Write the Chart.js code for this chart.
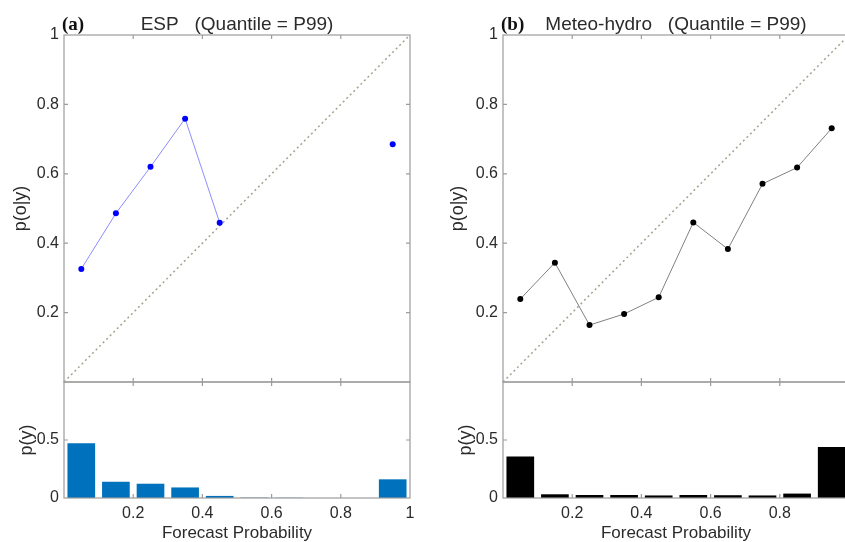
<!DOCTYPE html>
<html>
<head>
<script src="https://cdn.jsdelivr.net/npm/chart.js@4/dist/chart.umd.min.js"></script>
<style>
  body { margin: 0; width: 845px; height: 542px; overflow: hidden; background: #fff; position: relative; }
  canvas { position: absolute; }
</style>
</head>
<body>
<canvas id="espTop" width="420" height="386" style="left:0;top:0"></canvas>
<canvas id="espBottom" width="420" height="172" style="left:0;top:370px"></canvas>
<canvas id="mhTop" width="440" height="386" style="left:420px;top:0"></canvas>
<canvas id="mhBottom" width="440" height="172" style="left:420px;top:370px"></canvas>
<script>
// bin centres of the forecast probability
const binCenters = [0.05, 0.15, 0.25, 0.35, 0.45, 0.55, 0.65, 0.75, 0.85, 0.95];
// p(o|y) - observed relative frequency (null = empty bin)
const espObs = [0.326, 0.486, 0.620, 0.759, 0.459, null, null, null, null, 0.685];
const mhObs = [0.239, 0.344, 0.164, 0.196, 0.244, 0.460, 0.383, 0.571, 0.618, 0.731];
// p(y) - sharpness histogram
const espFreq = [0.471, 0.140, 0.123, 0.091, 0.018, 0.003, 0.002, 0, 0, 0.161];
const mhFreq = [0.357, 0.032, 0.026, 0.026, 0.022, 0.026, 0.024, 0.022, 0.038, 0.439];
const diagonal = [0, 1];

const FONT = 'Liberation Sans, Arial, sans-serif';
const TXT = '#2b2b2b';
const AXIS = '#9c9c9c';

// box round the axes with inward ticks on all four sides
const matlabBox = {
  id: 'matlabBox',
  afterDatasetsDraw(chart) {
    const { ctx, chartArea: a, scales: { x, y } } = chart;
    ctx.save();
    ctx.strokeStyle = AXIS;
    ctx.lineWidth = 1.2;
    ctx.beginPath();
    x.ticks.forEach(t => {
      const px = x.getPixelForValue(t.value);
      if (px <= a.left + 1 || px >= a.right - 1) return;
      ctx.moveTo(px, a.bottom); ctx.lineTo(px, a.bottom - 4);
      ctx.moveTo(px, a.top); ctx.lineTo(px, a.top + 4);
    });
    y.ticks.forEach(t => {
      const py = y.getPixelForValue(t.value);
      if (py <= a.top + 1 || py >= a.bottom - 1) return;
      ctx.moveTo(a.left, py); ctx.lineTo(a.left + 4, py);
      ctx.moveTo(a.right, py); ctx.lineTo(a.right - 4, py);
    });
    ctx.stroke();
    ctx.strokeRect(a.left, a.top, a.width, a.height);
    ctx.restore();
  }
};

// "(a)" tag + title above the panel
const panelTitle = {
  id: 'panelTitle',
  afterDraw(chart, args, opts) {
    if (!opts.text) return;
    const { ctx, chartArea: a } = chart;
    ctx.save();
    ctx.fillStyle = '#111';
    ctx.textBaseline = 'alphabetic';
    ctx.font = 'bold 19px "Liberation Serif", "Times New Roman", serif';
    ctx.textAlign = 'left';
    ctx.fillText(opts.tag, a.left - 2, 30);
    ctx.fillStyle = TXT;
    ctx.font = '19px ' + FONT;
    ctx.textAlign = 'center';
    ctx.fillText(opts.text, (a.left + a.right) / 2, 30);
    ctx.restore();
  }
};

function fmt(v) { return String(Math.round(v * 10) / 10); }

function yScale(w, max, step, title, titlePad, hide) {
  return {
    type: 'linear', min: 0, max: max,
    grid: { display: false, drawTicks: false }, border: { display: false },
    ticks: { stepSize: step, padding: 5, color: TXT, font: { family: FONT, size: 16 },
      callback: v => hide.includes(v) ? '' : fmt(v) },
    title: { display: true, text: title, color: TXT, font: { family: FONT, size: 18, lineHeight: 1 },
      padding: { top: titlePad, bottom: 0 } },
    afterFit: s => { s.width = w; s.paddingTop = 0; s.paddingBottom = 0; }
  };
}

function xScale(h, showLabels, hide) {
  return {
    type: 'linear', min: 0, max: 1, offset: false,
    grid: { display: false, drawTicks: false }, border: { display: false },
    ticks: { display: showLabels, stepSize: 0.2, padding: 6, color: TXT, maxRotation: 0,
      font: { family: FONT, size: 16 },
      callback: v => hide.includes(v) ? '' : fmt(v) },
    title: { display: showLabels, text: 'Forecast Probability', color: TXT,
      font: { family: FONT, size: 17, lineHeight: 1 }, padding: { top: 0, bottom: 0 } },
    afterFit: s => { s.height = h; s.paddingLeft = 0; s.paddingRight = 0; }
  };
}

const base = {
  responsive: false, animation: false,
  plugins: { legend: { display: false }, tooltip: { enabled: false } }
};

function reliability(id, obs, lineColor, markColor, tag, text, yw, padRight, titlePad) {
  new Chart(document.getElementById(id), {
    type: 'line',
    data: {
      datasets: [{
        data: binCenters.map((c, i) => ({ x: c, y: obs[i] })),
        borderColor: lineColor, borderWidth: 1, spanGaps: false,
        pointRadius: 3, pointBackgroundColor: markColor, pointBorderWidth: 0
      }, {
        data: diagonal.map(v => ({ x: v, y: v })),
        borderColor: '#a3a38e', borderWidth: 1.5, borderDash: [2, 3], pointRadius: 0
      }]
    },
    options: Object.assign({}, base, {
      layout: { padding: { top: 35, right: padRight, left: 0, bottom: 0 } },
      scales: { x: xScale(4, false, []), y: yScale(yw, 1, 0.2, 'p(o|y)', titlePad, [0]) },
      plugins: Object.assign({}, base.plugins, { panelTitle: { tag: tag, text: text } })
    }),
    plugins: [matlabBox, panelTitle]
  });
}

function sharpness(id, freq, color, yw, padRight, titlePad, hideX) {
  new Chart(document.getElementById(id), {
    type: 'bar',
    data: {
      datasets: [{
        data: binCenters.map((c, i) => ({ x: c, y: freq[i] })),
        backgroundColor: color, borderWidth: 0,
        barPercentage: 0.8, categoryPercentage: 1
      }]
    },
    options: Object.assign({}, base, {
      layout: { padding: { top: 12, right: padRight, left: 0, bottom: 0 } },
      scales: { x: xScale(44, true, hideX), y: yScale(yw, 1, 0.5, 'p(y)', titlePad, [1]) }
    }),
    plugins: [matlabBox]
  });
}

reliability('espTop', espObs, '#8c8cff', '#0000ff', '(a)', 'ESP   (Quantile = P99)', 64, 10, 12);
sharpness('espBottom', espFreq, '#0072BD', 64, 10, 18.5, [0]);
reliability('mhTop', mhObs, '#808080', '#000000', '(b)', 'Meteo-hydro   (Quantile = P99)', 83, 11, 29);
sharpness('mhBottom', mhFreq, '#000000', 83, 11, 37, [0, 1]);
</script>
</body>
</html>
